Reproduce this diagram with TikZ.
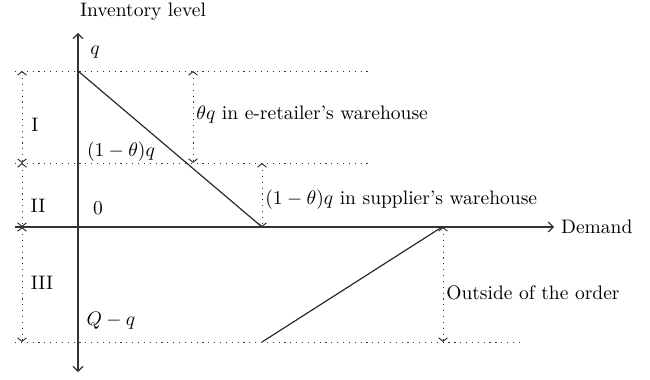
\documentclass[tikz,border=0pt]{standalone}
\usepackage{amsmath}
\usepackage{amssymb}
\usetikzlibrary{arrows.meta}

\tikzset{
  axisline/.style={draw=black!80, line width=0.6pt, -{Straight Barb[length=2.5pt,width=5pt]}},
  levelline/.style={draw=black!80, line width=0.5pt, dash pattern=on 0.6pt off 2.4pt},
  dimline/.style={draw=black!80, line width=0.5pt, dash pattern=on 0.6pt off 2.4pt,
    {Straight Barb[length=1.8pt,width=4.5pt]}-{Straight Barb[length=1.8pt,width=4.5pt]}},
  stockline/.style={draw=black!85, line width=0.6pt}
}

\begin{document}
\begin{tikzpicture}[x=1.8mm, y=1.8mm]
                \useasboundingbox (-7.8,-15.2) rectangle (57.2,22.7);
                % axes
                \coordinate (ybot) at (0,-14.5);
                \coordinate (ytop) at (0,19.4);
                \coordinate (xleft) at (-6.3,0);
                \coordinate (xright) at (47.6,0);
                \draw[axisline] (xleft) -- (xright) node[right]{Demand};
                \draw[axisline, {Straight Barb[length=2.5pt,width=5pt]}-{Straight Barb[length=2.5pt,width=5pt]}] (ybot) -- (ytop);
                \node (ylabel) at (6.5,21.5) {Inventory level};
                % levels
                \coordinate (qleft) at (-6.3,15.6);
                \coordinate (qright) at (29.2,15.6);
                \coordinate (tleft) at (-6.3,6.4);
                \coordinate (tright) at (29.0,6.4);
                \coordinate (bleft) at (-6.3,-11.5);
                \coordinate (bright) at (44.4,-11.5);
                \draw[levelline] (qleft) -- (qright);
                \draw[levelline] (tleft) -- (tright);
                \draw[levelline] (bleft) -- (bright);
                % inventory lines
                \coordinate (qtop) at (0,15.6);
                \coordinate (zero) at (18.4,0);
                \coordinate (low) at (18.4,-11.5);
                \coordinate (back) at (36.4,0);
                \draw[stockline] (qtop) -- (zero);
                \draw[stockline] (low) -- (back);
                % dimensions on the left
                \draw[dimline] (-5.6,15.6) -- (-5.6,6.4);
                \draw[dimline] (-5.6,6.4) -- (-5.6,0);
                \draw[dimline] (-5.6,0) -- (-5.6,-11.5);
                \node (one) at (-4.3,10.2) {I};
                \node (two) at (-4.0,2.1) {II};
                \node (three) at (-3.6,-5.6) {III};
                % dimensions on the right
                \draw[dimline] (11.5,15.6) -- (11.5,6.4);
                \draw[dimline] (18.4,6.4) -- (18.4,0);
                \draw[dimline] (36.5,0) -- (36.5,-11.5);
                \node[right, inner sep=1pt] (ret) at (11.6,11.2) {$\theta q$ in e-retailer's warehouse};
                \node[right, inner sep=1pt] (sup) at (18.5,2.7) {$(1-\theta)q$ in supplier's warehouse};
                \node[right, inner sep=1pt] (out) at (36.6,-6.6) {Outside of the order};
                % values
                \node (qval) at (1.7,17.5) {$q$};
                \node (zval) at (2.0,1.9) {$0$};
                \node (share) at (4.3,7.5) {$(1-\theta)q$};
                \node (Qval) at (3.3,-9.4) {$Q-q$};
            \end{tikzpicture}
\end{document}
